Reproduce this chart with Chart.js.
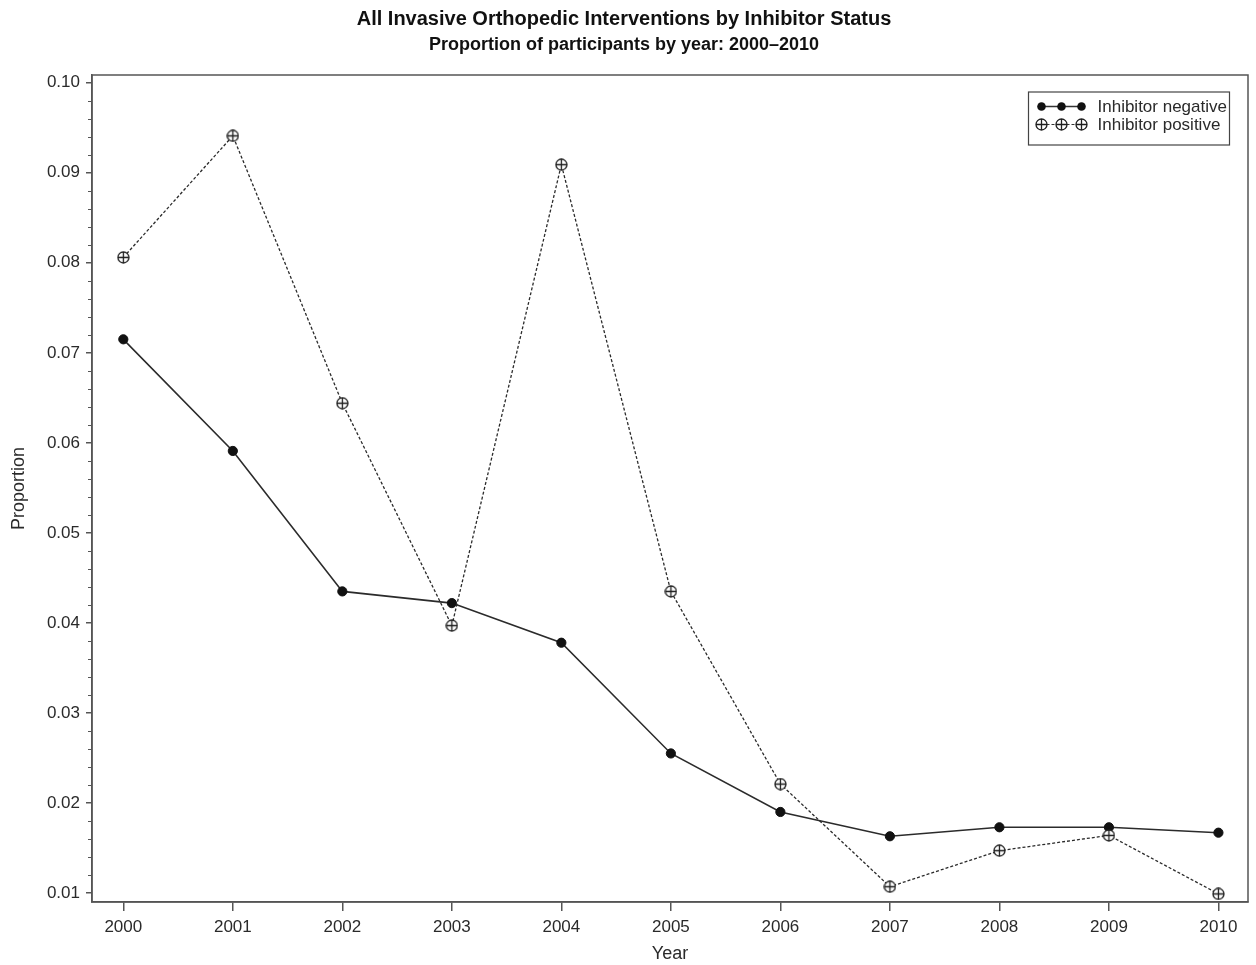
<!DOCTYPE html>
<html>
<head>
<meta charset="utf-8">
<title>All Invasive Orthopedic Interventions by Inhibitor Status</title>
<script src="https://cdn.jsdelivr.net/npm/chart.js@4.4.1/dist/chart.umd.min.js"></script>
<style>
  html, body { margin: 0; padding: 0; background: #ffffff; }
  #wrap { width: 1256px; height: 965px; }
</style>
</head>
<body>
<div id="wrap"><canvas id="chart" width="1256" height="965"></canvas></div>
<script>
// Study years (x axis)
const years = [2000, 2001, 2002, 2003, 2004, 2005, 2006, 2007, 2008, 2009, 2010];

// Proportion of participants with an invasive orthopedic intervention
const inhibitorNegative = [0.0715, 0.0591, 0.0435, 0.0422, 0.0378, 0.0255, 0.0190, 0.0163, 0.0173, 0.0173, 0.0167];
const inhibitorPositive = [0.0806, 0.0941, 0.0644, 0.0397, 0.0909, 0.0435, 0.0221, 0.0107, 0.0147, 0.0164, 0.0099];

// Labelled y ticks
const yTicks = [0.01, 0.02, 0.03, 0.04, 0.05, 0.06, 0.07, 0.08, 0.09, 0.10];
// Unlabelled minor ticks between them
const yMinorTicks = [];
for (let k = 5; k <= 50; k++) { if (k % 5 !== 0) yMinorTicks.push(k / 500); }

const seriesNames = ['Inhibitor negative', 'Inhibitor positive'];

const FONT = '"Liberation Sans", Arial, Helvetica, sans-serif';
const INK = '#2a2a2a';
const AXIS = '#555555';

// Circle-with-plus marker for the inhibitor positive series
function makeCrossCircle(size) {
  const c = document.createElement('canvas');
  c.width = size; c.height = size;
  const g = c.getContext('2d');
  const m = size / 2;
  const r = m - 1;
  g.fillStyle = '#ffffff';
  g.beginPath(); g.arc(m, m, r, 0, Math.PI * 2); g.fill();
  g.strokeStyle = '#1e1e1e';
  g.lineWidth = 1.3;
  g.beginPath(); g.arc(m, m, r, 0, Math.PI * 2); g.stroke();
  g.beginPath();
  g.moveTo(m - r, m); g.lineTo(m + r, m);
  g.moveTo(m, m - r); g.lineTo(m, m + r);
  g.stroke();
  return c;
}
const crossCircle = makeCrossCircle(13);

// Box around the plot, minor y ticks and the legend
const framePlugin = {
  id: 'frame',
  afterDraw(chart) {
    const { ctx, chartArea: a, scales } = chart;
    ctx.save();
    ctx.strokeStyle = AXIS;
    ctx.lineWidth = 1.5;
    ctx.strokeRect(a.left, a.top, a.right - a.left, a.bottom - a.top);

    // minor ticks
    ctx.lineWidth = 1.2;
    ctx.beginPath();
    yMinorTicks.forEach(v => {
      const py = Math.round(scales.y.getPixelForValue(v)) + 0.5;
      ctx.moveTo(a.left - 4, py); ctx.lineTo(a.left, py);
    });
    ctx.stroke();

    // legend
    const bw = 201, bh = 53;
    const bx = a.right - 18.5 - bw, by = a.top + 17;
    ctx.fillStyle = '#ffffff';
    ctx.fillRect(bx, by, bw, bh);
    ctx.strokeStyle = '#444444';
    ctx.lineWidth = 1.2;
    ctx.strokeRect(bx, by, bw, bh);
    const rows = [by + 14.5, by + 32.5];
    const mx = [bx + 13, bx + 33, bx + 53];
    ctx.font = '17px ' + FONT;
    ctx.textBaseline = 'middle';
    ctx.textAlign = 'left';
    rows.forEach((ry, i) => {
      ctx.strokeStyle = '#333333';
      ctx.lineWidth = i === 0 ? 1.5 : 1.2;
      ctx.setLineDash(i === 0 ? [] : [3, 2]);
      ctx.beginPath(); ctx.moveTo(mx[0], ry); ctx.lineTo(mx[2], ry); ctx.stroke();
      ctx.setLineDash([]);
      mx.forEach(x => {
        if (i === 0) {
          ctx.fillStyle = '#111111';
          ctx.beginPath(); ctx.arc(x, ry, 4.3, 0, Math.PI * 2); ctx.fill();
        } else {
          ctx.drawImage(crossCircle, x - 6.5, ry - 6.5);
        }
      });
      ctx.fillStyle = INK;
      ctx.fillText(seriesNames[i], bx + 69, ry + 1);
    });
    ctx.restore();
  }
};

const toPoints = arr => years.map((yr, i) => ({ x: yr, y: arr[i] }));

new Chart(document.getElementById('chart'), {
  type: 'line',
  data: {
    datasets: [
      {
        label: seriesNames[0],
        data: toPoints(inhibitorNegative),
        borderColor: '#2b2b2b',
        borderWidth: 1.6,
        pointStyle: 'circle',
        pointRadius: 4.6,
        pointBackgroundColor: '#111111',
        pointBorderColor: '#111111',
        pointBorderWidth: 1,
        tension: 0,
        order: 2
      },
      {
        label: seriesNames[1],
        data: toPoints(inhibitorPositive),
        borderColor: '#2b2b2b',
        borderWidth: 1.3,
        borderDash: [3, 2],
        pointStyle: crossCircle,
        pointRadius: 6,
        tension: 0,
        order: 1
      }
    ]
  },
  options: {
    responsive: false,
    animation: false,
    events: [],
    layout: { padding: { left: 0, right: 8, top: 0, bottom: 0 } },
    plugins: {
      legend: { display: false },
      tooltip: { enabled: false },
      title: {
        display: true,
        text: 'All Invasive Orthopedic Interventions by Inhibitor Status',
        color: '#111111',
        font: { family: FONT, size: 20, weight: 'bold' },
        padding: { top: 7, bottom: 2 }
      },
      subtitle: {
        display: true,
        text: 'Proportion of participants by year: 2000\u20132010',
        color: '#111111',
        font: { family: FONT, size: 18, weight: 'bold' },
        padding: { top: 1, bottom: 19.4 }
      }
    },
    scales: {
      x: {
        type: 'linear',
        min: 1999.714,
        max: 2010.27,
        afterBuildTicks: s => { s.ticks = years.map(v => ({ value: v })); },
        afterFit: s => { s.height = 63; },
        border: { display: true, color: AXIS, width: 1.5 },
        grid: { display: true, drawOnChartArea: false, drawTicks: true, tickLength: 9, color: AXIS, lineWidth: 1.5 },
        ticks: {
          color: INK,
          font: { family: FONT, size: 17 },
          padding: 6,
          maxRotation: 0,
          autoSkip: false,
          callback: v => String(v)
        },
        title: {
          display: true,
          text: 'Year',
          color: INK,
          font: { family: FONT, size: 18 },
          padding: { top: 0, bottom: 0 }
        }
      },
      y: {
        type: 'linear',
        min: 0.0090,
        max: 0.10086,
        afterBuildTicks: s => { s.ticks = yTicks.map(v => ({ value: v })); },
        afterFit: s => { s.width = 92; },
        border: { display: true, color: AXIS, width: 1.5 },
        grid: { display: true, drawOnChartArea: false, drawTicks: true, tickLength: 6, color: AXIS, lineWidth: 1.5 },
        ticks: {
          color: INK,
          font: { family: FONT, size: 17 },
          padding: 6,
          autoSkip: false,
          callback: v => v.toFixed(2)
        },
        title: {
          display: true,
          text: 'Proportion',
          color: INK,
          font: { family: FONT, size: 18 },
          padding: { top: 8, bottom: 0 }
        }
      }
    }
  },
  plugins: [framePlugin]
});
</script>
</body>
</html>
